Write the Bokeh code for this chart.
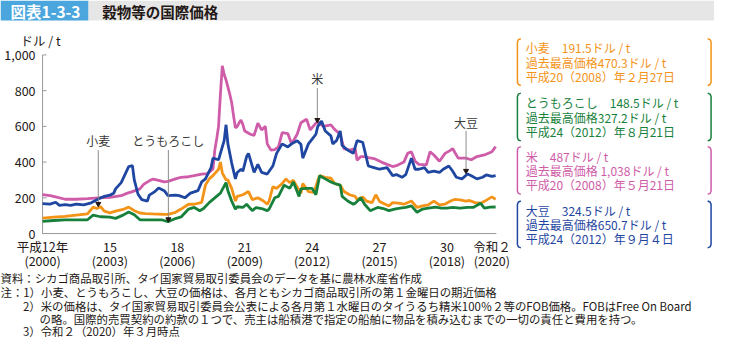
from bokeh.plotting import figure
from bokeh.models import Range1d
from bokeh.embed import file_html
from bokeh.resources import INLINE
from bokeh.core.properties import value

FONT = "Noto Sans CJK JP"

# ---------------- data (month index: 0 = Jan 2000, 242 = Mar 2020; US$/t) ----------------
wheat_month = [0, 6, 12, 18, 24, 27, 29, 31, 33, 36, 39, 43, 46, 49, 52, 55, 59, 64, 67, 71, 74, 78, 81, 85, 87, 89, 91, 94, 95, 96, 98, 99, 101, 103, 104, 107, 110, 112, 115, 118, 120, 121, 123, 125, 128, 130, 132, 134, 136, 138, 139, 142, 145, 147, 148, 151, 154, 156, 159, 161, 164, 167, 168, 171, 173, 176, 178, 180, 183, 185, 187, 190, 193, 197, 200, 203, 206, 209, 212, 215, 218, 220, 223, 226, 228, 231, 234, 236, 240, 242]
wheat_price = [86, 92, 96, 103, 110, 148, 140, 150, 125, 116, 125, 135, 148, 128, 115, 112, 110, 108, 107, 119, 137, 164, 164, 175, 271, 306, 324, 360, 400, 340, 300, 300, 253, 182, 208, 217, 235, 190, 200, 182, 164, 182, 262, 253, 280, 306, 285, 298, 260, 226, 280, 235, 230, 298, 324, 315, 310, 280, 270, 235, 217, 208, 191, 205, 182, 173, 217, 180, 164, 155, 173, 170, 164, 182, 146, 155, 160, 182, 160, 165, 182, 191, 188, 182, 185, 173, 170, 180, 205, 191.5]

corn_month = [0, 6, 12, 18, 24, 27, 31, 36, 39, 43, 46, 49, 52, 56, 61, 64, 67, 71, 74, 78, 81, 84, 86, 89, 92, 95, 98, 99, 101, 103, 104, 107, 109, 112, 114, 117, 120, 121, 124, 126, 129, 132, 134, 137, 138, 141, 144, 146, 148, 151, 154, 156, 159, 160, 163, 166, 167, 170, 172, 175, 179, 182, 185, 188, 191, 194, 197, 200, 203, 206, 210, 213, 216, 219, 223, 227, 230, 234, 236, 239, 242]
corn_price = [68, 73, 77, 77, 77, 103, 94, 92, 85, 103, 121, 105, 77, 77, 76, 76, 66, 84, 93, 137, 146, 128, 140, 173, 200, 226, 285, 240, 182, 137, 150, 146, 164, 128, 145, 140, 128, 137, 200, 208, 271, 253, 289, 208, 250, 253, 253, 217, 324, 306, 289, 280, 271, 208, 182, 164, 170, 200, 164, 128, 146, 140, 128, 137, 142, 146, 155, 119, 137, 142, 148, 142, 142, 146, 142, 146, 146, 169, 142, 148, 148.5]

rice_month = [0, 4, 7, 12, 18, 24, 30, 36, 42, 45, 48, 52, 54, 57, 59, 62, 65, 67, 71, 74, 78, 81, 85, 88, 91, 92, 93, 94, 95, 96, 97, 98, 99, 100, 101, 102, 103, 104, 105, 106, 107, 108, 111, 113, 115, 117, 119, 120, 122, 124, 126, 128, 131, 133, 136, 138, 141, 143, 146, 147, 150, 154, 156, 159, 161, 164, 167, 168, 170, 172, 174, 177, 181, 184, 187, 189, 193, 195, 197, 199, 201, 205, 207, 209, 212, 215, 218, 219, 222, 226, 229, 232, 236, 240, 242]
rice_price = [218, 212, 205, 192, 192, 195, 200, 202, 212, 225, 235, 250, 275, 295, 305, 298, 289, 292, 306, 315, 318, 324, 333, 335, 360, 467, 530, 600, 780, 939, 890, 860, 820, 780, 734, 660, 592, 600, 620, 636, 610, 574, 556, 550, 618, 580, 600, 502, 467, 470, 485, 565, 560, 502, 556, 620, 640, 580, 618, 625, 600, 609, 583, 556, 475, 467, 475, 410, 431, 431, 425, 420, 400, 387, 375, 380, 400, 449, 458, 405, 387, 385, 458, 440, 405, 449, 467, 476, 422, 422, 413, 431, 440, 458, 487]

soy_month = [0, 4, 7, 9, 12, 15, 18, 22, 26, 30, 33, 36, 38, 39, 42, 44, 46, 48, 49, 51, 53, 56, 57, 60, 62, 65, 67, 71, 73, 76, 79, 83, 85, 87, 90, 91, 94, 95, 97, 98, 99, 101, 103, 104, 106, 107, 109, 110, 112, 113, 115, 117, 120, 123, 125, 128, 131, 133, 136, 138, 139, 142, 144, 146, 147, 149, 151, 154, 155, 157, 159, 160, 163, 166, 168, 171, 172, 174, 177, 180, 184, 187, 189, 192, 194, 197, 199, 201, 204, 206, 209, 212, 214, 217, 219, 221, 224, 227, 229, 232, 235, 237, 240, 242]
soy_price = [167, 165, 175, 158, 162, 158, 165, 160, 172, 195, 208, 215, 225, 250, 285, 330, 375, 380, 300, 220, 190, 182, 215, 235, 255, 240, 212, 215, 212, 200, 226, 240, 289, 306, 369, 422, 413, 449, 520, 609, 502, 396, 306, 342, 360, 350, 431, 449, 378, 342, 387, 342, 333, 378, 449, 502, 485, 502, 520, 500, 422, 502, 529, 556, 600, 630, 574, 547, 502, 520, 574, 493, 467, 449, 520, 511, 467, 378, 369, 360, 369, 324, 330, 315, 330, 422, 360, 360, 369, 342, 350, 342, 360, 378, 350, 315, 306, 333, 324, 306, 315, 328, 320, 324.5]

y_ticks = [0, 200, 400, 600, 800, 1000]
x_ticks = [2000, 2003, 2006, 2009, 2012, 2015, 2018, 2020]
x_tick_era = ["平成12年", "15", "18", "21", "24", "27", "30", "令和２"]
x_tick_year = ["(2000)", "(2003)", "(2006)", "(2009)", "(2012)", "(2015)", "(2018)", "(2020)"]

series_names = ["小麦", "とうもろこし", "米", "大豆"]
legend_lines = [
    ["小麦　191.5ドル / t", "過去最高価格470.3ドル / t", "平成20（2008）年２月27日"],
    ["とうもろこし　148.5ドル / t", "過去最高価格327.2ドル / t", "平成24（2012）年８月21日"],
    ["米　487ドル / t", "過去最高価格 1,038ドル / t", "平成20（2008）年５月21日"],
    ["大豆　324.5ドル / t", "過去最高価格650.7ドル / t", "平成24（2012）年９月４日"],
]
notes = [
    "資料：シカゴ商品取引所、タイ国家貿易取引委員会のデータを基に農林水産省作成",
    "注：1）小麦、とうもろこし、大豆の価格は、各月ともシカゴ商品取引所の第１金曜日の期近価格",
    "2）米の価格は、タイ国家貿易取引委員会公表による各月第１水曜日のタイうるち精米100％２等のFOB価格。FOBはFree On Board",
    "の略。国際的売買契約の約款の１つで、売主は船積港で指定の船舶に物品を積み込むまでの一切の責任と費用を持つ。",
    "3）令和２（2020）年３月時点",
]

C_WHEAT, C_CORN, C_RICE, C_SOY = "#f39419", "#17813c", "#cf5ca8", "#1f47a2"
TXT = "#231815"
AXIS = "#9a9a9a"

# ---------------- layout constants (reference-pixel space 730 x 356) ----------------
W_REF, H_REF = 730, 356
X0, PX_PER_YEAR = 43.0, 22.97      # where Jan 2000 sits, and px per year
Y0, PX_PER_USD = 244.0, 0.187      # where 0 US$ sits, and px per US$
X_END = 2020.2

p = figure(width=714, height=340, x_range=Range1d(0, W_REF), y_range=Range1d(H_REF, 0),
           output_backend="svg", toolbar_location=None, x_axis_type=None, y_axis_type=None,
           min_border=0, outline_line_color=None,
           background_fill_color="white", border_fill_color="white")
p.extra_x_ranges = {"yr": Range1d(2000 - X0 / PX_PER_YEAR, 2000 + (W_REF - X0) / PX_PER_YEAR)}
p.extra_y_ranges = {"usd": Range1d((Y0 - H_REF) / PX_PER_USD, Y0 / PX_PER_USD)}
D = dict(x_range_name="yr", y_range_name="usd")


def years(months):
    return [2000 + m / 12 for m in months]


# ---------------- title bar ----------------
p.quad(left=[0], right=[90], top=[0], bottom=[21], color="#4aa6dd", line_color=None)
p.quad(left=[90], right=[W_REF], top=[0], bottom=[21], color="#e6e6e6", line_color=None)
p.text(x=[46], y=[11], text=["図表1-3-3"], text_align="center", text_baseline="middle",
       text_color="white", text_font=value(FONT), text_font_size="15.5px", text_font_style="bold")
p.text(x=[104], y=[11], text=["穀物等の国際価格"], text_align="left", text_baseline="middle",
       text_color=TXT, text_font=value(FONT), text_font_size="14.5px", text_font_style="bold")

# ---------------- axes ----------------
p.line(x=[x_ticks[0], x_ticks[0]], y=[y_ticks[0], y_ticks[-1]], color=AXIS, line_width=1, **D)
p.line(x=[x_ticks[0], X_END], y=[0, 0], color=AXIS, line_width=1, **D)
p.segment(x0=[x_ticks[0]] * len(y_ticks), y0=y_ticks,
          x1=[x_ticks[0] + 4 / PX_PER_YEAR] * len(y_ticks), y1=y_ticks, color=AXIS, line_width=1, **D)
p.text(x=[x_ticks[0]] * len(y_ticks), y=y_ticks, text=[f"{v:,}" for v in y_ticks],
       text_align="right", text_baseline="middle", x_offset=-7, text_color=TXT,
       text_font=value(FONT), text_font_size="12.5px", **D)
p.text(x=x_ticks, y=[258] * len(x_ticks), text=x_tick_era, x_range_name="yr",
       text_align="center", text_baseline="middle", text_color=TXT,
       text_font=value(FONT), text_font_size="12.5px")
p.text(x=x_ticks, y=[272] * len(x_ticks), text=x_tick_year, x_range_name="yr",
       text_align="center", text_baseline="middle", text_color=TXT,
       text_font=value(FONT), text_font_size="12.5px")
p.text(x=[41], y=[42], text=["ドル / t"], text_align="center", text_baseline="middle",
       text_color=TXT, text_font=value(FONT), text_font_size="12.5px")

# ---------------- series ----------------
lw = 2.8
p.line(years(rice_month), rice_price, color=C_RICE, line_width=lw, **D)
p.line(years(soy_month), soy_price, color=C_SOY, line_width=lw, **D)
p.line(years(wheat_month), wheat_price, color=C_WHEAT, line_width=lw, **D)
p.line(years(corn_month), corn_price, color=C_CORN, line_width=lw, **D)

# call-outs
ann_x = [2002.48, 2005.60, 2012.23, 2018.85]
ann_label_y = [520, 520, 868, 624]
ann_top = [467, 467, 815, 574]
ann_tip = [166, 80, 636, 351]
p.segment(x0=ann_x, y0=ann_top, x1=ann_x, y1=ann_tip, color="#8c8c8c", line_width=1, **D)
p.scatter(x=ann_x, y=ann_tip, marker="inverted_triangle", size=5, color=TXT, **D)
p.text(x=ann_x, y=ann_label_y, text=series_names, text_align="center", text_baseline="middle",
       text_color="#3a3a3a", text_font=value(FONT), text_font_size="12px", **D)

# ---------------- legend boxes ----------------
box_tops = [40, 97, 153, 210]
box_bottoms = [89, 147, 203, 259]
box_colors = [C_WHEAT, C_CORN, C_RICE, C_SOY]
xl, xr = 528.5, 726.5
for top, bot, col, lines in zip(box_tops, box_bottoms, box_colors, legend_lines):
    ys = [top, top + 1.0, top + 3.5, bot - 3.5, bot - 1.0, bot]
    p.line([xl + 3.5, xl + 1.0, xl, xl, xl + 1.0, xl + 3.5], ys, color=col, line_width=1.5)
    p.line([xr - 3.5, xr - 1.0, xr, xr, xr - 1.0, xr - 3.5], ys, color=col, line_width=1.5)
    mid = (top + bot) / 2
    p.text(x=[537, 537, 537], y=[mid - 15, mid, mid + 15], text=lines, text_align="left",
           text_baseline="middle", text_color=col, text_font=value(FONT), text_font_size="12px")

# ---------------- notes ----------------
p.text(x=[0, 0, 23, 40, 23], y=[291, 305, 319.5, 333.5, 346.5], text=notes, text_align="left",
       text_baseline="middle", text_color=TXT, text_font=value(FONT), text_font_size="11.4px")

open("out.html", "w").write(file_html(p, INLINE))
